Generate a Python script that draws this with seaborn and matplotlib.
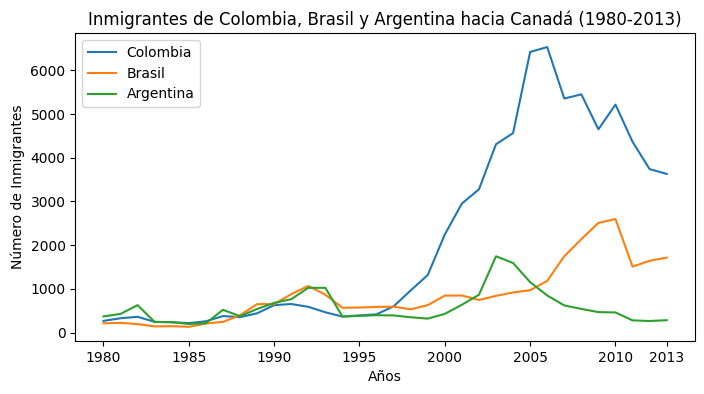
import matplotlib
matplotlib.use("Agg")
import matplotlib.pyplot as plt
import seaborn as sns
import pandas as pd

# datos: inmigrantes por año hacia Canadá
years = list(range(1980, 2014))
colombia = [266, 326, 360, 244, 235, 214, 257, 376, 352, 439, 627, 652, 588, 463,
            365, 391, 416, 600, 963, 1316, 2244, 2953, 3278, 4311, 4566, 6424,
            6535, 5357, 5452, 4652, 5218, 4366, 3741, 3631]
brasil = [211, 220, 192, 139, 145, 130, 205, 244, 394, 650, 650, 877, 1066, 866,
          566, 572, 586, 591, 531, 626, 845, 847, 745, 839, 917, 969, 1181, 1746,
          2138, 2509, 2598, 1508, 1642, 1714]
argentina = [368, 426, 626, 241, 237, 196, 213, 519, 374, 538, 678, 763, 1023, 1022,
             366, 380, 396, 391, 349, 318, 427, 635, 865, 1745, 1591, 1153, 847,
             620, 540, 467, 459, 278, 263, 282]
x_ticks = [1980, 1985, 1990, 1995, 2000, 2005, 2010, 2013]

df = pd.DataFrame({"Año": years, "Colombia": colombia,
                   "Brasil": brasil, "Argentina": argentina})

fig, ax = plt.subplots(figsize=(7.04, 3.94), dpi=100)
fig.subplots_adjust(left=0.107, right=0.987, top=0.916, bottom=0.135)

for pais in ["Colombia", "Brasil", "Argentina"]:
    sns.lineplot(data=df, x="Año", y=pais, label=pais, ax=ax)

ax.set_title("Inmigrantes de Colombia, Brasil y Argentina hacia Canadá (1980-2013)")
ax.set_xlabel("Años")
ax.set_ylabel("Número de Inmigrantes")
ax.set_xticks(x_ticks)
ax.legend(loc="upper left")

fig.savefig("out.png", dpi=100)
